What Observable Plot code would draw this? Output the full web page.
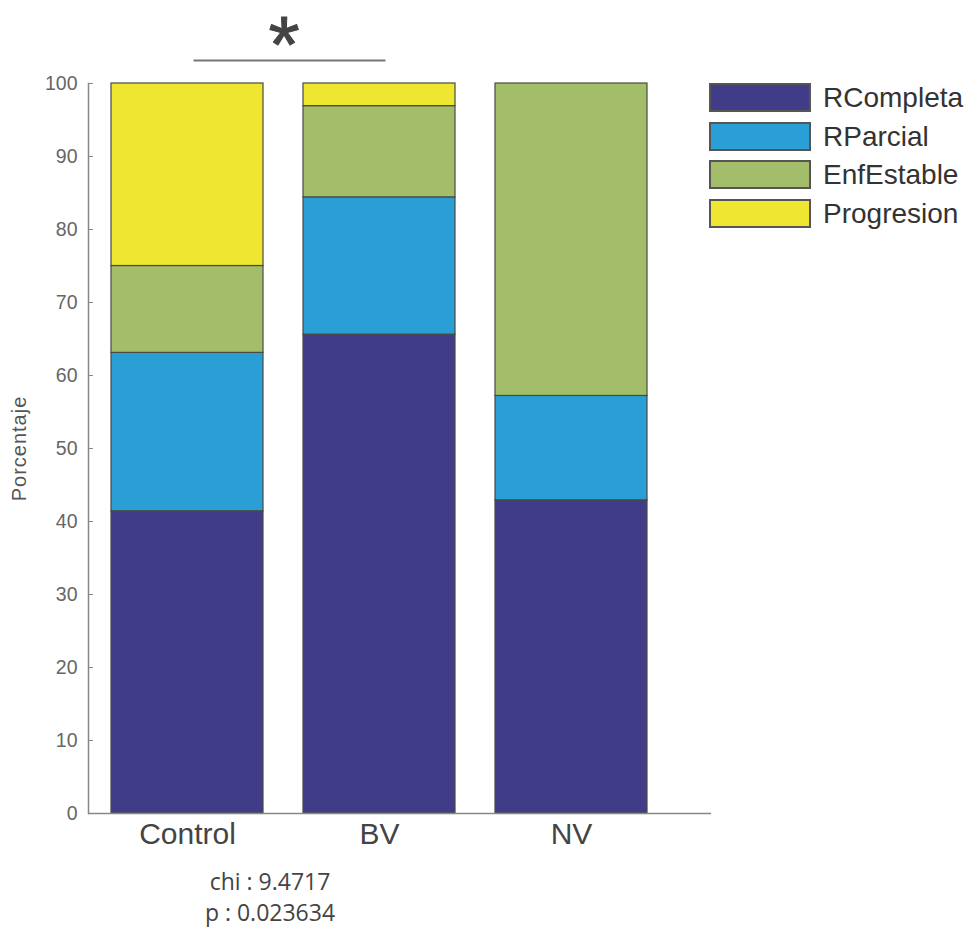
<!DOCTYPE html>
<html>
<head>
<meta charset="utf-8">
<script src="https://cdn.jsdelivr.net/npm/d3@7"></script>
<script src="https://cdn.jsdelivr.net/npm/@observablehq/plot@0.6"></script>
<style>
  html, body { margin: 0; padding: 0; background: #fff; }
  #wrap { position: relative; width: 976px; height: 931px; font-family: "Liberation Sans", Arial, Helvetica, sans-serif; }
  #legend { position: absolute; left: 709px; top: 83px; }
  .row { display: flex; align-items: center; height: 29px; margin-bottom: 9.7px; }
  .sw { width: 98px; height: 25px; border: 2px solid #555; box-sizing: content-box; }
  .lab { margin-left: 12px; font-size: 28px; color: #333; line-height: 29px; }
  #stats { position: absolute; left: 170px; width: 200px; top: 866px; text-align: center; font-family: "Open Sans", "Noto Sans", sans-serif; font-size: 23px; color: #444; line-height: 31px; }
</style>
</head>
<body>
<div id="wrap"></div>
<script>
const groups = ["Control", "BV", "NV"];
const categories = ["RCompleta", "RParcial", "EnfEstable", "Progresion"];
const colors = ["#403c88", "#2a9fd5", "#a4bd6b", "#efe632"];
const RCompleta  = [41.4, 65.6, 42.9];
const RParcial   = [21.7, 18.8, 14.3];
const EnfEstable = [11.9, 12.5, 42.8];
const Progresion = [25.0, 3.1, 0];
const yTicks = [0, 10, 20, 30, 40, 50, 60, 70, 80, 90, 100];
const sigFrom = "Control", sigTo = "BV", sigY = 103.15, starY = 109.3;
const statsLines = ["chi : 9.4717", "p : 0.023634"];

const series = [RCompleta, RParcial, EnfEstable, Progresion];
const data = [];
categories.forEach((c, ci) => groups.forEach((g, gi) => data.push({group: g, cat: c, value: series[ci][gi]})));

const W = 976, H = 931, mL = 88, mR = 265, mT = 83, mB = 118;
const pIn = 0.2073, pOut = 0.2177, align = 0.262;
const step = (W - mL - mR) / (groups.length - pIn + 2 * pOut);

const plot = Plot.plot({
  width: W, height: H,
  marginLeft: mL, marginRight: mR, marginTop: mT, marginBottom: mB,
  style: {fontFamily: "'Liberation Sans', Arial, Helvetica, sans-serif", background: "#fff"},
  x: {domain: groups, paddingInner: pIn, paddingOuter: pOut, align: align, label: null},
  y: {domain: [0, 100], label: null},
  color: {domain: categories, range: colors},
  marks: [
    Plot.barY(data, {x: "group", y: "value", fill: "cat", stroke: "#4a4a40", strokeWidth: 1.2}),
    Plot.ruleY([0], {stroke: "#888", strokeWidth: 1.5}),
    Plot.frame({anchor: "left", stroke: "#888", strokeWidth: 1.5}),
    Plot.axisY({ticks: yTicks, tickSize: -5, tickPadding: 16, fontSize: 19.5, fill: "#666", stroke: "#888", label: null}),
    Plot.axisX({tickSize: 0, tickPadding: 9, fontSize: 30, fill: "#444", label: null}),
    Plot.text(["Porcentaje"], {frameAnchor: "left", textAnchor: "middle", rotate: -90, dx: -69, fontSize: 20, fill: "#555"}),
    Plot.link([{a: sigFrom, b: sigTo, y: sigY}], {x1: "a", x2: "b", y1: "y", y2: "y", stroke: "#777", strokeWidth: 2, dx: 6}),
    Plot.text([{a: sigFrom, y: starY}], {x: "a", y: "y", text: () => "*", dx: step / 2, lineAnchor: "top", fontSize: 80, fill: "#444", stroke: "#444", strokeWidth: 1})
  ]
});
document.getElementById("wrap").appendChild(plot);

// slight letter spacing for the rotated y label
d3.select(plot).selectAll("text").filter(function() { return this.textContent === "Porcentaje"; })
  .style("letter-spacing", "1px");

const legend = document.createElement("div");
legend.id = "legend";
categories.forEach((c, i) => {
  const row = document.createElement("div");
  row.className = "row";
  const sw = document.createElement("div");
  sw.className = "sw";
  sw.style.background = colors[i];
  const lab = document.createElement("div");
  lab.className = "lab";
  lab.textContent = c;
  row.appendChild(sw); row.appendChild(lab);
  legend.appendChild(row);
});
document.getElementById("wrap").appendChild(legend);

const stats = document.createElement("div");
stats.id = "stats";
stats.innerHTML = statsLines.map(s => `<div>${s}</div>`).join("");
document.getElementById("wrap").appendChild(stats);
</script>
</body>
</html>
